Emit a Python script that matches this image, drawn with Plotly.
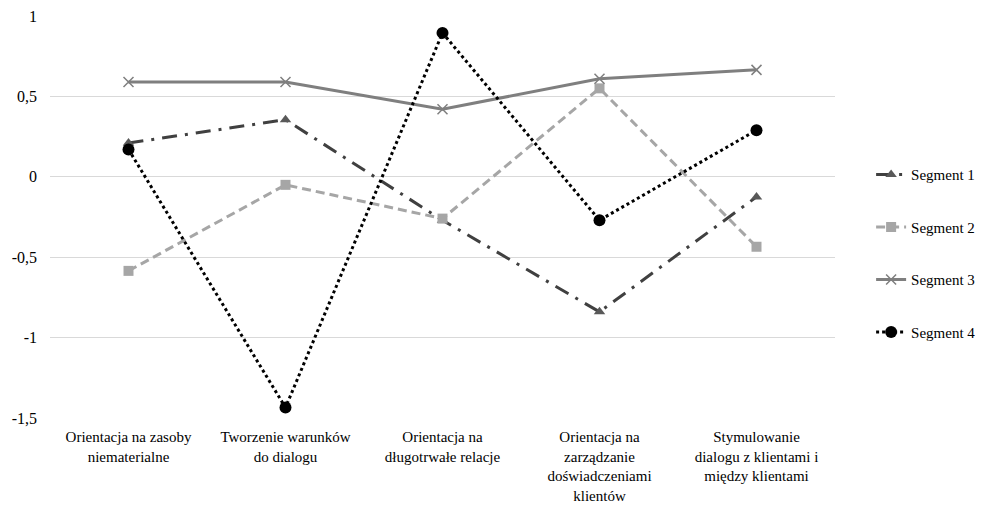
import plotly.graph_objects as go

categories = [
    "Orientacja na zasoby<br>niematerialne",
    "Tworzenie warunków<br>do dialogu",
    "Orientacja na<br>długotrwałe relacje",
    "Orientacja na<br>zarządzanie<br>doświadczeniami<br>klientów",
    "Stymulowanie<br>dialogu z klientami i<br>między klientami",
]
segment_1 = [0.21, 0.355, -0.27, -0.84, -0.125]
segment_2 = [-0.585, -0.05, -0.26, 0.55, -0.435]
segment_3 = [0.59, 0.59, 0.42, 0.61, 0.665]
segment_4 = [0.17, -1.435, 0.895, -0.27, 0.29]
y_ticks = [1, 0.5, 0, -0.5, -1, -1.5]
y_tick_labels = ["1", "0,5", "0", "-0,5", "-1", "-1,5"]

font = "Liberation Serif, Times New Roman, Liberation Sans, serif"

fig = go.Figure()
fig.add_trace(go.Scatter(
    x=categories, y=segment_1, name="Segment 1", mode="lines+markers",
    line=dict(color="#404040", width=3, dash="15px,8px,3px,8px"),
    marker=dict(symbol="triangle-up", size=10, color="#595959"),
    legendgroup="1"))
fig.add_trace(go.Scatter(
    x=categories, y=segment_2, name="Segment 2", mode="lines+markers",
    line=dict(color="#A6A6A6", width=3, dash="9px,5px"),
    marker=dict(symbol="square", size=10, color="#A6A6A6"),
    legendgroup="2"))
fig.add_trace(go.Scatter(
    x=categories, y=segment_3, name="Segment 3", mode="lines+markers",
    line=dict(color="#7F7F7F", width=3),
    marker=dict(symbol="x-thin", size=10, line=dict(color="#7F7F7F", width=1.5)),
    legendgroup="3"))
fig.add_trace(go.Scatter(
    x=categories, y=segment_4, name="Segment 4", mode="lines+markers",
    line=dict(color="#000000", width=3, dash="dot"),
    marker=dict(symbol="circle", size=12, color="#000000"),
    legendgroup="4"))

fig.update_layout(
    width=991, height=507,
    margin=dict(l=42, r=164, t=8, b=97),
    paper_bgcolor="white", plot_bgcolor="white",
    font=dict(family=font, size=16, color="#000000"),
    legend=dict(x=1.046, xanchor="left", y=0.41, yanchor="middle",
                tracegroupgap=30, traceorder="grouped",
                font=dict(family=font, size=15, color="#000000")),
    xaxis=dict(showgrid=False, zeroline=False, showline=False, ticks="",
               automargin=False, ticklabelstandoff=8,
               tickfont=dict(family=font, size=15), range=[-0.5, 4.5]),
    yaxis=dict(range=[-1.5, 1], tickvals=y_ticks, ticktext=y_tick_labels,
               showgrid=True, gridcolor="#D9D9D9", gridwidth=1,
               zeroline=False, showline=False, ticks="", automargin=False,
               ticklabelstandoff=12, ticklabeloverflow="allow",
               tickfont=dict(family=font, size=16)),
)

fig.write_html("out.html")
